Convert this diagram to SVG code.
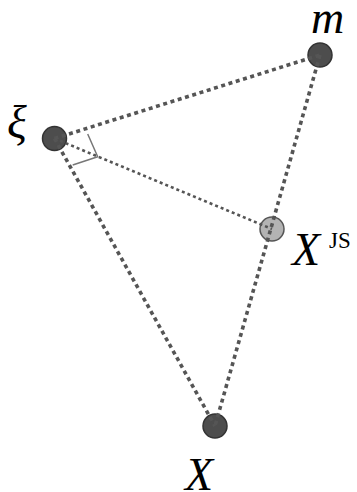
<svg xmlns="http://www.w3.org/2000/svg" width="357" height="492" viewBox="0 0 357 492">
<style>
.node{fill:#4d4d4d;stroke:#333;stroke-width:1.5}
.light{fill:#b3b3b3;stroke:#555;stroke-width:1.5}
.thick{stroke:#555;stroke-width:3.6;stroke-dasharray:4 3.6;fill:none}
.thin{stroke:#555;stroke-width:2.6;stroke-dasharray:3 3;fill:none}
.mark{stroke:#777;stroke-width:1.5;fill:none}
.lbl{font-family:"Liberation Serif","DejaVu Serif",serif;font-style:italic;font-size:46px;fill:#000}
.sup{font-family:"Liberation Serif","DejaVu Serif",serif;font-style:normal;font-size:23px;fill:#000}
</style>
<rect width="357" height="492" fill="#fff"/>
<g id="node-xi"><circle class="node" cx="54.5" cy="138.5" r="12"/><text class="lbl" x="7" y="138">ξ</text></g>
<g id="node-m"><circle class="node" cx="320" cy="55" r="12"/><text class="lbl" x="311" y="33">m</text></g>
<g id="node-xjs"><circle class="light" cx="272" cy="229" r="12"/><text class="lbl" x="292" y="265">X</text><text class="sup" x="329" y="248">JS</text></g>
<g id="node-x"><circle class="node" cx="215" cy="426" r="12"/><text class="lbl" x="185" y="490">X</text></g>
<g id="connectors">
<line class="thick" x1="54.5" y1="138.5" x2="320" y2="55"/>
<line class="thick" x1="54.5" y1="138.5" x2="215" y2="426"/>
<line class="thick" x1="320" y1="55" x2="215" y2="426"/>
<line class="thin" x1="54.5" y1="138.5" x2="272" y2="229"/>
<polyline class="mark" points="87.7,134 97.7,156.7 72.7,165"/>
</g>
</svg>
